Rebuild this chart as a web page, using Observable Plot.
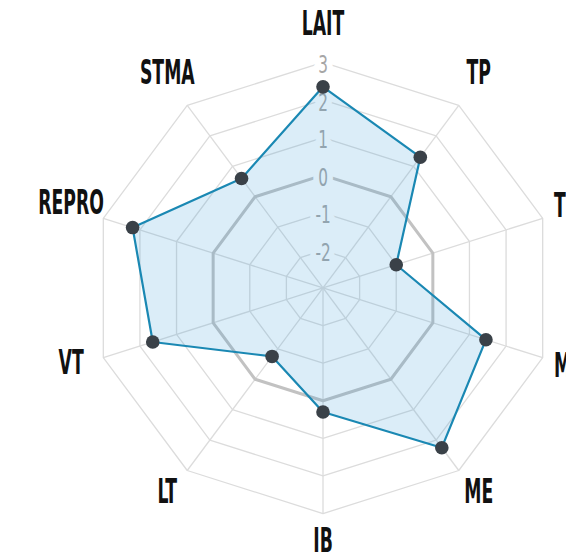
<!DOCTYPE html>
<html>
<head>
<meta charset="utf-8">
<script src="https://cdn.jsdelivr.net/npm/d3@7"></script>
<script src="https://cdn.jsdelivr.net/npm/@observablehq/plot@0.6"></script>
<style>
  body { margin: 0; background: #fff; }
  #chart { width: 566px; height: 552px; overflow: hidden; }
</style>
</head>
<body>
<div id="chart"></div>
<script>
// ---- data ----
const axes = ["LAIT", "TP", "TB", "MO", "ME", "IB", "LT", "VT", "REPRO", "STMA"];
const values = [2.35, 1.3, -1.0, 1.45, 2.25, 0.3, -0.75, 1.65, 2.2, 0.6];
const levels = [-2, -1, 0, 1, 2, 3];
const tickLabels = ["-2", "-1", "0", "1", "2", "3"];
const minValue = -3;
const maxValue = 3;
const labelValue = 3.88;

// ---- polar helpers ----
const n = axes.length;
const ang = i => 2 * Math.PI * i / n;
const px = (i, v) => (v - minValue) * Math.sin(ang(i));
const py = (i, v) => (v - minValue) * Math.cos(ang(i));

const rings = levels.flatMap(l => axes.map((a, i) => ({level: l, x: px(i, l), y: py(i, l)})));
const spokes = axes.map((a, i) => ({i, x1: 0, y1: 0, x2: px(i, maxValue), y2: py(i, maxValue)})).filter(d => d.i !== 0);
const series = axes.map((a, i) => ({axis: a, value: values[i], x: px(i, values[i]), y: py(i, values[i])}));
const labels = axes.map((a, i) => ({axis: a, side: Math.sin(ang(i)), x: px(i, labelValue), y: py(i, labelValue)}));
const ticks = levels.map((l, k) => ({label: tickLabels[k], x: 0, y: l - minValue}));

const narrow = "'Liberation Sans Narrow', 'DejaVu Sans Condensed', 'Roboto', sans-serif";
const labelStyle = {x: "x", y: "y", text: "axis", fontSize: 24, fontWeight: "bold", fill: "#111", fontFamily: narrow};

const svg = Plot.plot({
  width: 566,
  height: 552,
  margin: 0,
  x: {domain: [-8.377, 6.325], axis: null},
  y: {domain: [-7.035, 7.646], axis: null},
  style: {background: "#fff"},
  marks: [
    Plot.line(rings.filter(d => d.level !== 0), {x: "x", y: "y", z: "level", curve: "linear-closed", stroke: "#dcdcdc", strokeWidth: 1.3}),
    Plot.link(spokes, {x1: "x1", y1: "y1", x2: "x2", y2: "y2", stroke: "#dcdcdc", strokeWidth: 1.3}),
    Plot.line(rings.filter(d => d.level === 0), {x: "x", y: "y", curve: "linear-closed", stroke: "#c2c2c2", strokeWidth: 3}),
    Plot.text(ticks, {x: "x", y: "y", text: "label", dy: 3, fontSize: 20, fill: "#a6a6a6", stroke: "#fff", strokeWidth: 14, fontFamily: narrow}),
    Plot.line(series, {x: "x", y: "y", curve: "linear-closed", fill: "#3a9ad9", fillOpacity: 0.18, stroke: "none"}),
    Plot.line(series, {x: "x", y: "y", curve: "linear-closed", stroke: "#1a88b3", strokeWidth: 2.2}),
    Plot.dot(series, {x: "x", y: "y", r: 6.8, fill: "#3a4148", stroke: "none"}),
    Plot.text(labels.filter(d => d.side > 0.9), {...labelStyle, textAnchor: "start", dx: -21, dy: -2}),
    Plot.text(labels.filter(d => d.side <= 0.9), {...labelStyle, dy: -5})
  ]
});

// condensed display look for texts
function stretch(g, sx, sy) {
  g.querySelectorAll("text").forEach(t => {
    const tr = t.getAttribute("transform");
    if (tr) t.setAttribute("transform", tr + ` scale(${sx},${sy})`);
    else {
      const x = t.getAttribute("x") || 0, y = t.getAttribute("y") || 0;
      t.removeAttribute("x"); t.removeAttribute("y");
      t.setAttribute("transform", `translate(${x},${y}) scale(${sx},${sy})`);
    }
  });
}
const textGroups = svg.querySelectorAll('g[aria-label="text"]');
stretch(textGroups[0], 0.85, 1.2);
stretch(textGroups[textGroups.length - 2], 0.8, 1.38);
stretch(textGroups[textGroups.length - 1], 0.8, 1.38);

document.getElementById("chart").appendChild(svg);
</script>
</body>
</html>
